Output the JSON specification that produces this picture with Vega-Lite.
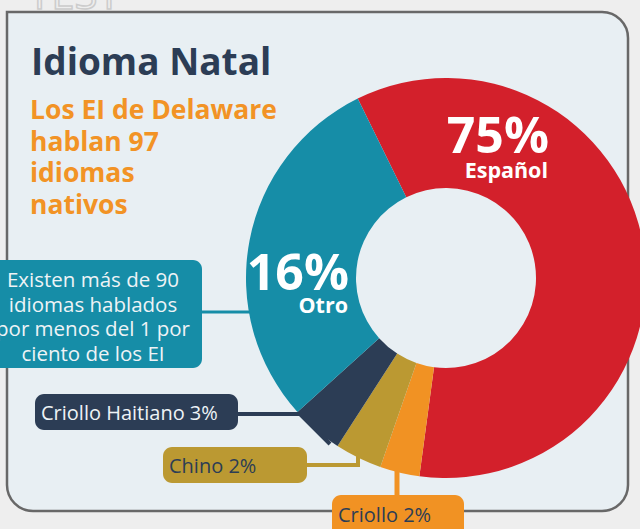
{
  "$schema": "https://vega.github.io/schema/vega-lite/v6.json",
  "width": 640,
  "height": 529,
  "autosize": "none",
  "padding": 0,
  "background": "#eeeeee",
  "config": {"view": {"stroke": null}, "text": {"font": "Open Sans"}},
  "datasets": {
    "slices": [
      {"idioma": "Español", "pct": 0.75, "share": 59.4, "ord": 1},
      {"idioma": "Criollo", "pct": 0.02, "share": 3.2, "ord": 2},
      {"idioma": "Chino", "pct": 0.02, "share": 3.8, "ord": 3},
      {"idioma": "Criollo Haitiano", "pct": 0.03, "share": 4.2, "ord": 4},
      {"idioma": "Otro", "pct": 0.16, "share": 29.4, "ord": 5}
    ]
  },
  "layer": [
    {
      "data": {"values": [{"t": "TEST"}]},
      "mark": {"type": "text", "fontSize": 42, "fill": null, "stroke": "#cccccc", "strokeWidth": 1.5, "align": "left", "baseline": "alphabetic"},
      "encoding": {
        "text": {"field": "t"},
        "x": {"datum": 28, "type": "quantitative", "scale": {"domain": [0, 640], "nice": false, "zero": false}, "axis": null},
        "y": {"datum": 9, "type": "quantitative", "scale": {"domain": [0, 529], "nice": false, "zero": false, "reverse": true}, "axis": null}
      }
    },
    {
      "data": {"values": [{"t": "panel"}]},
      "mark": {"type": "rect", "fill": "#e8eff3", "stroke": "#686868", "strokeWidth": 2.5, "cornerRadiusTopRight": 26, "cornerRadiusBottomRight": 26, "cornerRadiusBottomLeft": 26},
      "encoding": {
        "x": {"datum": 7, "type": "quantitative"},
        "x2": {"datum": 628},
        "y": {"datum": 12, "type": "quantitative"},
        "y2": {"datum": 511}
      }
    },
    {
      "data": {"values": [
        {"seg": "teal", "x1": 198, "x2": 252, "y1": 312, "y2": 312, "w": 3},
        {"seg": "navy", "x1": 236, "x2": 300, "y1": 414, "y2": 414, "w": 4},
        {"seg": "navy", "x1": 300, "x2": 330, "y1": 414, "y2": 444, "w": 4},
        {"seg": "gold", "x1": 305, "x2": 360, "y1": 465, "y2": 465, "w": 4},
        {"seg": "gold", "x1": 358, "x2": 358, "y1": 467, "y2": 450, "w": 4},
        {"seg": "orange", "x1": 397, "x2": 397, "y1": 497, "y2": 465, "w": 5}
      ]},
      "mark": {"type": "rule", "strokeCap": "butt"},
      "encoding": {
        "x": {"field": "x1", "type": "quantitative"},
        "x2": {"field": "x2"},
        "y": {"field": "y1", "type": "quantitative"},
        "y2": {"field": "y2"},
        "strokeWidth": {"field": "w", "type": "quantitative", "scale": null, "legend": null},
        "color": {"field": "seg", "type": "nominal", "scale": {"domain": ["teal", "navy", "gold", "orange"], "range": ["#168da7", "#2c3d55", "#bb9932", "#f19223"]}, "legend": null}
      }
    },
    {
      "data": {"values": [
        {"box": "teal", "x1": -20, "x2": 202, "y1": 260, "y2": 368},
        {"box": "navy", "x1": 35, "x2": 238, "y1": 394, "y2": 430},
        {"box": "gold", "x1": 163, "x2": 307, "y1": 447, "y2": 483},
        {"box": "orange", "x1": 332, "x2": 464, "y1": 495, "y2": 550}
      ]},
      "mark": {"type": "rect", "cornerRadius": 9},
      "encoding": {
        "x": {"field": "x1", "type": "quantitative"},
        "x2": {"field": "x2"},
        "y": {"field": "y1", "type": "quantitative"},
        "y2": {"field": "y2"},
        "color": {"field": "box", "type": "nominal", "legend": null}
      }
    },
    {
      "data": {"name": "slices"},
      "mark": {"type": "arc", "innerRadius": 90, "outerRadius": 200},
      "encoding": {
        "x": {"datum": 446, "type": "quantitative"},
        "y": {"datum": 278, "type": "quantitative"},
        "theta": {"field": "share", "type": "quantitative", "stack": true, "scale": {"range": [-0.457, 5.826]}},
        "order": {"field": "ord", "type": "quantitative"},
        "fill": {"field": "idioma", "type": "nominal", "scale": {"domain": ["Español", "Criollo", "Chino", "Criollo Haitiano", "Otro"], "range": ["#d3202b", "#f19223", "#bb9932", "#2c3d55", "#168da7"]}, "legend": null}
      }
    },
    {
      "data": {"values": [{"t": "Existen más de 90\nidiomas hablados\npor menos del 1 por\nciento de los EI"}]},
      "mark": {"type": "text", "fontSize": 20.5, "color": "#eef3f6", "align": "center", "baseline": "alphabetic", "lineBreak": "\n", "lineHeight": 24.5},
      "encoding": {
        "text": {"field": "t"},
        "x": {"datum": 93, "type": "quantitative"},
        "y": {"datum": 287, "type": "quantitative"}
      }
    },
    {
      "data": {"values": [{"t": "Criollo Haitiano 3%"}]},
      "mark": {"type": "text", "fontSize": 20, "color": "#eef3f6", "align": "left", "baseline": "alphabetic"},
      "encoding": {
        "text": {"field": "t"},
        "x": {"datum": 41, "type": "quantitative"},
        "y": {"datum": 420, "type": "quantitative"}
      }
    },
    {
      "data": {"values": [{"t": "Chino 2%"}]},
      "mark": {"type": "text", "fontSize": 20, "color": "#2c3d55", "align": "left", "baseline": "alphabetic"},
      "encoding": {
        "text": {"field": "t"},
        "x": {"datum": 169, "type": "quantitative"},
        "y": {"datum": 473, "type": "quantitative"}
      }
    },
    {
      "data": {"values": [{"t": "Criollo 2%"}]},
      "mark": {"type": "text", "fontSize": 20, "color": "#2c3d55", "align": "left", "baseline": "alphabetic"},
      "encoding": {
        "text": {"field": "t"},
        "x": {"datum": 338, "type": "quantitative"},
        "y": {"datum": 522, "type": "quantitative"}
      }
    },
    {
      "data": {"name": "slices"},
      "transform": [{"filter": "datum.idioma === 'Español'"}],
      "mark": {"type": "text", "fontSize": 50, "fontWeight": "bold", "color": "#ffffff", "align": "right", "baseline": "alphabetic"},
      "encoding": {
        "text": {"field": "pct", "type": "quantitative", "format": ".0%"},
        "x": {"datum": 549, "type": "quantitative"},
        "y": {"datum": 153, "type": "quantitative"}
      }
    },
    {
      "data": {"name": "slices"},
      "transform": [{"filter": "datum.idioma === 'Español'"}],
      "mark": {"type": "text", "fontSize": 21.5, "fontWeight": "bold", "color": "#ffffff", "align": "right", "baseline": "alphabetic"},
      "encoding": {
        "text": {"field": "idioma"},
        "x": {"datum": 548, "type": "quantitative"},
        "y": {"datum": 178, "type": "quantitative"}
      }
    },
    {
      "data": {"name": "slices"},
      "transform": [{"filter": "datum.idioma === 'Otro'"}],
      "mark": {"type": "text", "fontSize": 50, "fontWeight": "bold", "color": "#ffffff", "align": "right", "baseline": "alphabetic"},
      "encoding": {
        "text": {"field": "pct", "type": "quantitative", "format": ".0%"},
        "x": {"datum": 349, "type": "quantitative"},
        "y": {"datum": 290, "type": "quantitative"}
      }
    },
    {
      "data": {"name": "slices"},
      "transform": [{"filter": "datum.idioma === 'Otro'"}],
      "mark": {"type": "text", "fontSize": 21.5, "fontWeight": "bold", "color": "#ffffff", "align": "right", "baseline": "alphabetic"},
      "encoding": {
        "text": {"field": "idioma"},
        "x": {"datum": 348, "type": "quantitative"},
        "y": {"datum": 313, "type": "quantitative"}
      }
    },
    {
      "data": {"values": [{"t": "Idioma Natal"}]},
      "mark": {"type": "text", "fontSize": 37, "fontWeight": "bold", "color": "#2c3d55", "align": "left", "baseline": "alphabetic"},
      "encoding": {
        "text": {"field": "t"},
        "x": {"datum": 31, "type": "quantitative"},
        "y": {"datum": 75, "type": "quantitative"}
      }
    },
    {
      "data": {"values": [{"t": "Los EI de Delaware\nhablan 97\nidiomas\nnativos"}]},
      "mark": {"type": "text", "fontSize": 26.5, "fontWeight": "bold", "color": "#f29325", "align": "left", "baseline": "alphabetic", "lineBreak": "\n", "lineHeight": 31.7},
      "encoding": {
        "text": {"field": "t"},
        "x": {"datum": 30, "type": "quantitative"},
        "y": {"datum": 119, "type": "quantitative"}
      }
    }
  ]
}
